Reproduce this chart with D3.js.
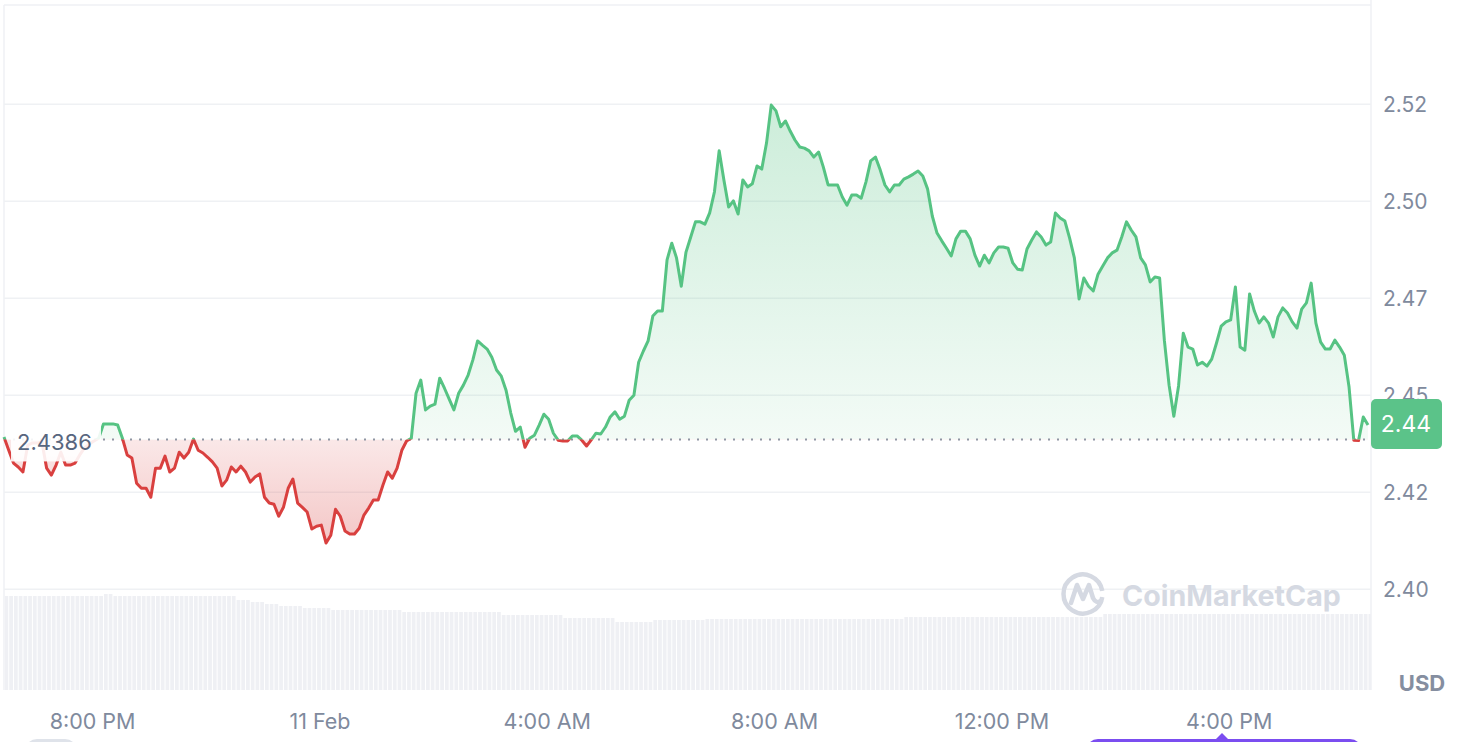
<!DOCTYPE html>
<html><head><meta charset="utf-8">
<script src="https://cdn.jsdelivr.net/npm/d3@7"></script>
<style>
html,body{margin:0;padding:0;background:#fff;}
svg{display:block;font-family:Inter,"Noto Sans",sans-serif;}
</style></head><body>
<svg id="chart" width="1460" height="742"></svg>
<script>
// ---------- DATA ----------
const startTime = new Date(2025, 1, 10, 18, 27);
const stepMinutes = 5;
const baselinePrice = 2.4386;
const baselineLabel = "2.4386";
const lastPriceLabel = "2.44";
const currencyLabel = "USD";
const watermarkText = "CoinMarketCap";

// 5-minute prices, 10 Feb 18:27 -> 11 Feb 18:27
const pricesEvening = [
  2.4392,2.4358,2.4325,2.4315,2.4302,2.4371,2.4377,2.4377,2.4379,2.4312,
  2.4294,2.4320,2.4353,2.4320,2.4320,2.4325,2.4346,2.4364,2.4374,2.4382,
  2.4389,
  2.4426,2.4426,2.4426,2.4423,2.4389,2.4346,2.4338,2.4273,2.4260,2.4260,
  2.4237,2.4312,2.4312,2.4343,2.4302,2.4312,2.4353,2.4338,2.4353,2.4387,
  2.4358,2.4351,2.4340,2.4328,2.4312,2.4266,2.4281,2.4315,2.4302,2.4317,
  2.4302,2.4276,2.4289,2.4297,2.4237,2.4222,2.4219,2.4188,2.4211,2.4260,
  2.4284,2.4222,2.4211,2.4199,2.4155,2.4162,2.4165,2.4119,2.4139,2.4206,
  2.4188,2.4150,2.4142,2.4142,2.4157,2.4191,2.4209,2.4230,2.4230,2.4268,
  2.4302,2.4286,2.4312,2.4358,2.4382,2.4389
];
const pricesNight = [
  2.4505,2.4539,2.4462,2.4472,2.4477,2.4544,2.4518,2.4490,2.4462,2.4505,
  2.4526,2.4552,2.4591,2.4640,2.4629,2.4619,2.4598,2.4565,2.4549,2.4513,
  2.4454,2.4407,2.4418,2.4366,2.4389,2.4397,2.4423,2.4451,2.4438,2.4402,
  2.4384,2.4382,2.4382,2.4395,2.4395,2.4384,2.4369,2.4385,2.4402,2.4400,
  2.4418,2.4444,2.4457,2.4438,2.4446,2.4487,2.4500,2.4585,2.4614,2.4640,
  2.4704,2.4717,2.4717,2.4849,2.4892,2.4854,2.4781,2.4869,2.4908,2.4947,
  2.4947
];
const pricesMorning = [
  2.4941,2.4970,2.5024,2.5130,2.5055,2.4985,2.5001,2.4967,2.5055,2.5037,
  2.5045,2.5091,2.5083,2.5150,2.5248,2.5233,2.5192,2.5207,2.5181,2.5158,
  2.5140,2.5137,2.5130,2.5114,2.5127,2.5088,2.5042,2.5042,2.5042,2.5011,
  2.4990,2.5016,2.5016,2.5008,2.5050,2.5104,2.5114,2.5081,2.5042,2.5024,
  2.5042,2.5042
];
const pricesAfternoon = [
  2.5057,2.5063,2.5070,2.5078,2.5065,2.5032,2.4962,2.4918,2.4898,2.4879,
  2.4859,2.4903,2.4923,2.4923,2.4903,2.4861,2.4833,2.4861,2.4841,2.4867,
  2.4882,2.4882,2.4879,2.4841,2.4825,2.4823,2.4877,2.4900,2.4921,2.4908,
  2.4887,2.4895,2.4970,2.4957,2.4949,2.4905,2.4854,2.4748,2.4802,2.4781,
  2.4769,2.4812,2.4833,2.4854,2.4867,2.4874,2.4908,2.4947,2.4926,2.4908,
  2.4854,2.4836,2.4792,2.4805,2.4802,2.4642,2.4526,2.4446,2.4524,2.4660,
  2.4624,2.4619,2.4578,2.4585,2.4575,2.4593,2.4634,2.4678,2.4689,2.4694,
  2.4779,2.4624,2.4616,2.4761,2.4717,2.4686,2.4702,2.4686,2.4650,2.4702,
  2.4725,2.4712,2.4689,2.4673,2.4722,2.4738,2.4789,2.4686,2.4637,2.4619,
  2.4619,2.4642,2.4624,2.4603,2.4521,2.4384,2.4383,2.4444,2.4423
];

// 24h volume (billion USD) per 5-minute bar, as [value, number of bars]
const volumeRuns = [
  [4.70,21],[4.80,2],[4.70,26],[4.50,3],[4.40,3],[4.30,3],[4.20,5],[4.10,6],
  [4.00,15],[3.90,21],[3.75,13],[3.60,11],[3.40,8],[3.50,11],[3.55,42],
  [3.65,42],[3.80,57]
];

const yTickValues = [2.400, 2.425, 2.450, 2.475, 2.500, 2.525];
const yTickLabels = ["2.40", "2.42", "2.45", "2.47", "2.50", "2.52"];
const xTickTimes = [
  new Date(2025,1,10,20,0), new Date(2025,1,11,0,0), new Date(2025,1,11,4,0),
  new Date(2025,1,11,8,0), new Date(2025,1,11,12,0), new Date(2025,1,11,16,0)
];
const xTickLabels = ["8:00 PM", "11 Feb", "4:00 AM", "8:00 AM", "12:00 PM", "4:00 PM"];

// ---------- BUILD ----------
const prices = [].concat(pricesEvening, pricesNight, pricesMorning, pricesAfternoon);
const data = prices.map((p, i) => ({t: new Date(startTime.getTime() + i*stepMinutes*60000), p}));
const volumes = [];
volumeRuns.forEach(([v, n]) => { for (let k = 0; k < n; k++) volumes.push(v); });

const GREEN = "#56c383", RED = "#d9403f", GRID = "#eff1f4";
const plotL = 4, plotR = 1371, plotT = 5, plotB = 690;

const svg = d3.select("#chart");
const x = d3.scaleTime().domain([data[0].t, data[data.length-1].t]).range([4, 1368]);
const y = d3.scaleLinear().domain([2.374, 2.5506]).range([690, 5]);
const yv = d3.scaleLinear().domain([0, 5]).range([690, 590]);
const yBase = y(baselinePrice);

const defs = svg.append("defs");
const gG = defs.append("linearGradient").attr("id","gGreen").attr("gradientUnits","userSpaceOnUse")
  .attr("x1",0).attr("x2",0).attr("y1",y(2.525)).attr("y2",yBase);
gG.append("stop").attr("offset","0").attr("stop-color",GREEN).attr("stop-opacity",0.30);
gG.append("stop").attr("offset","1").attr("stop-color",GREEN).attr("stop-opacity",0.07);
const gR = defs.append("linearGradient").attr("id","gRed").attr("gradientUnits","userSpaceOnUse")
  .attr("x1",0).attr("x2",0).attr("y1",yBase).attr("y2",y(2.411));
gR.append("stop").attr("offset","0").attr("stop-color",RED).attr("stop-opacity",0.12);
gR.append("stop").attr("offset","1").attr("stop-color",RED).attr("stop-opacity",0.30);
defs.append("clipPath").attr("id","above").append("rect")
  .attr("x",0).attr("y",0).attr("width",1460).attr("height",yBase);
defs.append("clipPath").attr("id","below").append("rect")
  .attr("x",0).attr("y",yBase).attr("width",1460).attr("height",742-yBase);
defs.append("clipPath").attr("id","plot").append("rect")
  .attr("x",plotL+1).attr("y",plotT).attr("width",plotR-plotL-1).attr("height",plotB-plotT);

// frame
const frame = svg.append("g").attr("stroke",GRID).attr("stroke-width",1.5).attr("fill","none");
frame.append("line").attr("x1",plotL).attr("x2",plotL).attr("y1",plotT).attr("y2",plotB);
frame.append("line").attr("x1",plotR).attr("x2",plotR).attr("y1",0).attr("y2",plotB);
frame.append("line").attr("x1",plotL).attr("x2",plotR).attr("y1",plotT).attr("y2",plotT);

// gridlines
svg.append("g").selectAll("line").data(yTickValues).join("line")
  .attr("x1",plotL).attr("x2",plotR).attr("y1",d=>y(d)).attr("y2",d=>y(d))
  .attr("stroke",GRID).attr("stroke-width",1.5);

// volume bars
const barStep = x(data[1].t) - x(data[0].t);
svg.append("g").attr("clip-path","url(#plot)").selectAll("rect").data(volumes).join("rect")
  .attr("x",(d,i)=>x(data[i].t) + 0.5)
  .attr("width",barStep - 1)
  .attr("y",d=>yv(d))
  .attr("height",d=>yv(0)-yv(d))
  .attr("fill","#eff0f4");

// watermark
const wm = svg.append("g").attr("fill","none").attr("stroke","#d5d9e2");
wm.append("path").attr("d", d3.arc()({innerRadius:19.5,outerRadius:19.5,startAngle:0.55*Math.PI,endAngle:2.45*Math.PI}))
  .attr("transform","translate(1083,594)").attr("stroke-width",4.5);
wm.append("path").attr("d","M1071,603 L1077,585 L1083,599 L1089,585 L1093,598 Q1096,604 1101,601")
  .attr("stroke-width",4.5).attr("stroke-linejoin","round").attr("stroke-linecap","round");
svg.append("text").attr("x",1122).attr("y",595).attr("dominant-baseline","central")
  .attr("font-size",28.6).attr("font-weight",700).attr("fill","#d5d9e2").text(watermarkText);

// areas
const areaGen = d3.area().x(d=>x(d.t)).y0(yBase).y1(d=>y(d.p));
const lineGen = d3.line().x(d=>x(d.t)).y(d=>y(d.p));
svg.append("path").datum(data).attr("d",areaGen).attr("fill","url(#gGreen)").attr("clip-path","url(#above)");
svg.append("path").datum(data).attr("d",areaGen).attr("fill","url(#gRed)").attr("clip-path","url(#below)");

// baseline dotted
svg.append("line").attr("x1",x(data[0].t)).attr("x2",x(data[data.length-1].t))
  .attr("y1",yBase).attr("y2",yBase).attr("stroke","#8f96a3").attr("stroke-width",2)
  .attr("stroke-dasharray","2,7");

// lines
svg.append("path").datum(data).attr("d",lineGen).attr("fill","none").attr("stroke",GREEN)
  .attr("stroke-width",3).attr("stroke-linejoin","round").attr("clip-path","url(#above)");
svg.append("path").datum(data).attr("d",lineGen).attr("fill","none").attr("stroke",RED)
  .attr("stroke-width",3).attr("stroke-linejoin","round").attr("clip-path","url(#below)");

// baseline label
svg.append("rect").attr("x",11).attr("y",yBase-14).attr("width",90).attr("height",36)
  .attr("fill","#fff").attr("opacity",0.9);
svg.append("text").attr("x",17).attr("y",yBase+3).attr("dominant-baseline","central")
  .attr("font-size",22).attr("fill","#58667e").text(baselineLabel);

// right axis
const yAxis = d3.axisRight(y).tickValues(yTickValues)
  .tickFormat((d,i)=>yTickLabels[i]).tickSize(0).tickPadding(0);
const ya = svg.append("g").attr("transform","translate(1383,0)").call(yAxis);
ya.select(".domain").remove();
ya.selectAll("text").attr("font-size",21).attr("fill","#808a9d").attr("font-family","Inter,sans-serif").attr("dy","0.35em");

// x axis
const xAxis = d3.axisBottom(x).tickValues(xTickTimes)
  .tickFormat((d,i)=>xTickLabels[i]).tickSize(0).tickPadding(0);
const xa = svg.append("g").attr("transform","translate(0,721)").call(xAxis);
xa.select(".domain").remove();
xa.selectAll("text").attr("font-size",21.5).attr("fill","#808a9d").attr("font-family","Inter,sans-serif")
  .attr("dy","0.35em");

svg.append("text").attr("x",1422).attr("y",683).attr("text-anchor","middle").attr("dominant-baseline","central")
  .attr("font-size",22).attr("font-weight",700).attr("fill","#858ea0").text(currencyLabel);

// last price badge
const lastY = y(prices[prices.length-1]);
svg.append("rect").attr("x",1371).attr("y",lastY-26).attr("width",71).attr("height",50).attr("rx",5)
  .attr("fill","#5bc389");
svg.append("text").attr("x",1406).attr("y",lastY-1).attr("text-anchor","middle").attr("dominant-baseline","central")
  .attr("font-size",23).attr("fill","#fff").text(lastPriceLabel);

// bottom range selector fragments
svg.append("rect").attr("x",25).attr("y",739).attr("width",52).attr("height",24).attr("rx",12).attr("fill","#dfe3ea");
svg.append("rect").attr("x",1086).attr("y",739).attr("width",276).attr("height",30).attr("rx",12).attr("fill","#7b4df0");
svg.append("path").attr("d","M1215,740 L1222,733 L1229,740 Z").attr("fill","#7b4df0");
</script>
</body></html>
